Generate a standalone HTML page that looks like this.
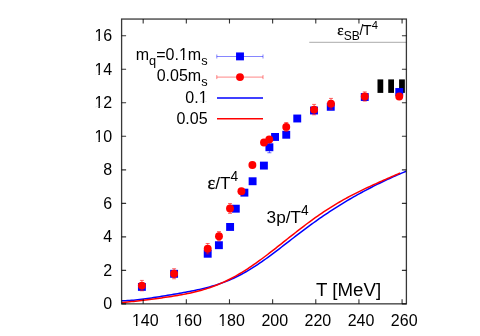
<!DOCTYPE html>
<html><head><meta charset="utf-8"><title>plot</title>
<style>html,body{margin:0;padding:0;background:#fff;}body{width:480px;height:336px;overflow:hidden;}svg{display:block;will-change:transform;}text{font-family:"Liberation Sans",sans-serif;fill:#000;}.sy{font-family:"Liberation Serif",serif;}</style></head><body>
<svg width="480" height="336" viewBox="0 0 480 336">
<rect x="0" y="0" width="480" height="336" fill="#fff"/>
<defs><clipPath id="c"><rect x="121.60" y="19.05" width="284.80" height="284.80"/></clipPath></defs>
<line x1="309.25" y1="42.3" x2="406.40" y2="42.3" stroke="#a0a0a0" stroke-width="0.9"/>
<g clip-path="url(#c)">
<rect x="377.50" y="79.4" width="5.75" height="13.5" fill="#000"/>
<rect x="388.25" y="79.4" width="5.75" height="13.5" fill="#000"/>
<rect x="399.10" y="79.4" width="5.75" height="13.5" fill="#000"/>
</g>
<g clip-path="url(#c)" fill="none" stroke-width="1.5" stroke-linecap="butt">
<path d="M121.60 300.69 L123.60 300.68 L125.60 300.64 L127.60 300.56 L129.60 300.45 L131.60 300.31 L133.60 300.15 L135.60 299.97 L137.60 299.76 L139.60 299.54 L141.60 299.30 L143.60 299.04 L145.60 298.77 L147.60 298.50 L149.60 298.21 L151.60 297.91 L153.60 297.61 L155.60 297.29 L157.60 296.98 L159.60 296.66 L161.60 296.33 L163.60 296.01 L165.60 295.68 L167.60 295.34 L169.60 295.01 L171.60 294.67 L173.60 294.33 L175.60 293.99 L177.60 293.64 L179.60 293.29 L181.60 292.94 L183.60 292.58 L185.60 292.21 L187.60 291.84 L189.60 291.46 L191.60 291.07 L193.60 290.67 L195.60 290.26 L197.60 289.83 L199.60 289.39 L201.60 288.93 L203.60 288.45 L205.60 287.96 L207.60 287.44 L209.60 286.90 L211.60 286.33 L213.60 285.74 L215.60 285.12 L217.60 284.48 L219.60 283.80 L221.60 283.10 L223.60 282.37 L225.60 281.60 L227.60 280.80 L229.60 279.97 L231.60 279.10 L233.60 278.20 L235.60 277.26 L237.60 276.29 L239.60 275.28 L241.60 274.23 L243.60 273.14 L245.60 272.02 L247.60 270.86 L249.60 269.67 L251.60 268.45 L253.60 267.19 L255.60 265.89 L257.60 264.57 L259.60 263.22 L261.60 261.84 L263.60 260.43 L265.60 259.01 L267.60 257.56 L269.60 256.09 L271.60 254.60 L273.60 253.10 L275.60 251.59 L277.60 250.07 L279.60 248.54 L281.60 247.00 L283.60 245.46 L285.60 243.91 L287.60 242.36 L289.60 240.82 L291.60 239.27 L293.60 237.73 L295.60 236.19 L297.60 234.66 L299.60 233.13 L301.60 231.62 L303.60 230.11 L305.60 228.61 L307.60 227.12 L309.60 225.65 L311.60 224.19 L313.60 222.74 L315.60 221.30 L317.60 219.88 L319.60 218.48 L321.60 217.09 L323.60 215.71 L325.60 214.35 L327.60 213.01 L329.60 211.68 L331.60 210.37 L333.60 209.08 L335.60 207.80 L337.60 206.54 L339.60 205.29 L341.60 204.06 L343.60 202.84 L345.60 201.64 L347.60 200.45 L349.60 199.27 L351.60 198.11 L353.60 196.96 L355.60 195.83 L357.60 194.71 L359.60 193.60 L361.60 192.51 L363.60 191.43 L365.60 190.36 L367.60 189.30 L369.60 188.25 L371.60 187.22 L373.60 186.20 L375.60 185.19 L377.60 184.19 L379.60 183.21 L381.60 182.24 L383.60 181.28 L385.60 180.33 L387.60 179.39 L389.60 178.46 L391.60 177.55 L393.60 176.65 L395.60 175.76 L397.60 174.88 L399.60 174.01 L401.60 173.16 L403.60 172.32 L405.60 171.49 L406.40 171.16" stroke="#0000ff"/>
<path d="M121.60 302.58 L123.60 302.41 L125.60 302.22 L127.60 302.03 L129.60 301.83 L131.60 301.62 L133.60 301.41 L135.60 301.18 L137.60 300.96 L139.60 300.73 L141.60 300.49 L143.60 300.25 L145.60 300.00 L147.60 299.75 L149.60 299.50 L151.60 299.24 L153.60 298.98 L155.60 298.72 L157.60 298.45 L159.60 298.17 L161.60 297.90 L163.60 297.61 L165.60 297.33 L167.60 297.03 L169.60 296.73 L171.60 296.42 L173.60 296.11 L175.60 295.78 L177.60 295.45 L179.60 295.10 L181.60 294.75 L183.60 294.38 L185.60 293.99 L187.60 293.59 L189.60 293.17 L191.60 292.74 L193.60 292.28 L195.60 291.80 L197.60 291.30 L199.60 290.77 L201.60 290.22 L203.60 289.64 L205.60 289.03 L207.60 288.40 L209.60 287.73 L211.60 287.03 L213.60 286.30 L215.60 285.54 L217.60 284.74 L219.60 283.91 L221.60 283.05 L223.60 282.15 L225.60 281.22 L227.60 280.26 L229.60 279.26 L231.60 278.22 L233.60 277.16 L235.60 276.06 L237.60 274.92 L239.60 273.76 L241.60 272.56 L243.60 271.33 L245.60 270.06 L247.60 268.77 L249.60 267.45 L251.60 266.11 L253.60 264.73 L255.60 263.33 L257.60 261.91 L259.60 260.47 L261.60 259.00 L263.60 257.51 L265.60 256.01 L267.60 254.49 L269.60 252.96 L271.60 251.41 L273.60 249.85 L275.60 248.29 L277.60 246.71 L279.60 245.13 L281.60 243.55 L283.60 241.96 L285.60 240.37 L287.60 238.78 L289.60 237.20 L291.60 235.61 L293.60 234.04 L295.60 232.47 L297.60 230.90 L299.60 229.35 L301.60 227.81 L303.60 226.28 L305.60 224.77 L307.60 223.27 L309.60 221.79 L311.60 220.33 L313.60 218.88 L315.60 217.46 L317.60 216.05 L319.60 214.67 L321.60 213.30 L323.60 211.96 L325.60 210.64 L327.60 209.34 L329.60 208.06 L331.60 206.81 L333.60 205.57 L335.60 204.36 L337.60 203.17 L339.60 202.00 L341.60 200.85 L343.60 199.72 L345.60 198.60 L347.60 197.51 L349.60 196.44 L351.60 195.38 L353.60 194.34 L355.60 193.32 L357.60 192.32 L359.60 191.32 L361.60 190.35 L363.60 189.39 L365.60 188.44 L367.60 187.50 L369.60 186.57 L371.60 185.65 L373.60 184.75 L375.60 183.84 L377.60 182.95 L379.60 182.06 L381.60 181.18 L383.60 180.30 L385.60 179.42 L387.60 178.55 L389.60 177.67 L391.60 176.79 L393.60 175.91 L395.60 175.02 L397.60 174.13 L399.60 173.23 L400.00 173.05" stroke="#ff0000"/>
</g>
<g stroke-width="0.6">
<path d="M216.8 56.50H263 M216.8 54.50V58.50 M263 54.50V58.50" stroke="#0000ff" stroke-opacity="0.8" fill="none"/>
<path d="M216.8 77.10H263 M216.8 75.10V79.10 M263 75.10V79.10" stroke="#ff0000" stroke-opacity="0.8" fill="none"/>
</g>
<line x1="217" y1="98.00" x2="263" y2="98.00" stroke="#0000ff" stroke-width="1.5"/>
<line x1="217" y1="118.75" x2="263" y2="118.75" stroke="#ff0000" stroke-width="1.5"/>
<rect x="236.05" y="52.45" width="7.90" height="7.90" fill="#0000ff"/>
<circle cx="240.00" cy="77.10" r="3.95" fill="#ff0000"/>
<g clip-path="url(#c)">
<path d="M269.40 141.75V152.75 M267.40 141.75H271.40 M267.40 152.75H271.40" stroke="#0000ff" stroke-opacity="0.85" stroke-width="0.7" fill="none"/>
<rect x="137.95" y="282.95" width="7.90" height="7.90" fill="#0000ff"/>
<rect x="170.15" y="269.85" width="7.90" height="7.90" fill="#0000ff"/>
<rect x="203.75" y="249.80" width="7.90" height="7.90" fill="#0000ff"/>
<rect x="214.95" y="241.25" width="7.90" height="7.90" fill="#0000ff"/>
<rect x="226.15" y="223.00" width="7.90" height="7.90" fill="#0000ff"/>
<rect x="231.85" y="204.75" width="7.90" height="7.90" fill="#0000ff"/>
<rect x="240.45" y="188.70" width="7.90" height="7.90" fill="#0000ff"/>
<rect x="248.65" y="177.30" width="7.90" height="7.90" fill="#0000ff"/>
<rect x="259.95" y="161.65" width="7.90" height="7.90" fill="#0000ff"/>
<rect x="265.45" y="143.30" width="7.90" height="7.90" fill="#0000ff"/>
<rect x="271.10" y="133.00" width="7.90" height="7.90" fill="#0000ff"/>
<rect x="282.30" y="130.80" width="7.90" height="7.90" fill="#0000ff"/>
<rect x="293.30" y="114.55" width="7.90" height="7.90" fill="#0000ff"/>
<rect x="310.05" y="106.55" width="7.90" height="7.90" fill="#0000ff"/>
<rect x="326.80" y="102.85" width="7.90" height="7.90" fill="#0000ff"/>
<rect x="360.80" y="93.05" width="7.90" height="7.90" fill="#0000ff"/>
<rect x="395.30" y="88.05" width="7.90" height="7.90" fill="#0000ff"/>
<path d="M141.90 280.40V290.80 M139.90 280.40H143.90 M139.90 290.80H143.90" stroke="#ff0000" stroke-opacity="0.85" stroke-width="0.7" fill="none"/>
<path d="M174.10 268.75V278.75 M172.10 268.75H176.10 M172.10 278.75H176.10" stroke="#ff0000" stroke-opacity="0.85" stroke-width="0.7" fill="none"/>
<path d="M207.70 243.50V253.90 M205.70 243.50H209.70 M205.70 253.90H209.70" stroke="#ff0000" stroke-opacity="0.85" stroke-width="0.7" fill="none"/>
<path d="M219.00 231.60V240.80 M217.00 231.60H221.00 M217.00 240.80H221.00" stroke="#ff0000" stroke-opacity="0.85" stroke-width="0.7" fill="none"/>
<path d="M230.00 203.55V213.35 M228.00 203.55H232.00 M228.00 213.35H232.00" stroke="#ff0000" stroke-opacity="0.85" stroke-width="0.7" fill="none"/>
<path d="M286.25 122.50V131.30 M284.25 122.50H288.25 M284.25 131.30H288.25" stroke="#ff0000" stroke-opacity="0.85" stroke-width="0.7" fill="none"/>
<path d="M314.10 104.40V114.80 M312.10 104.40H316.10 M312.10 114.80H316.10" stroke="#ff0000" stroke-opacity="0.85" stroke-width="0.7" fill="none"/>
<path d="M331.00 98.40V109.20 M329.00 98.40H333.00 M329.00 109.20H333.00" stroke="#ff0000" stroke-opacity="0.85" stroke-width="0.7" fill="none"/>
<path d="M364.75 91.90V101.10 M362.75 91.90H366.75 M362.75 101.10H366.75" stroke="#ff0000" stroke-opacity="0.85" stroke-width="0.7" fill="none"/>
<circle cx="141.90" cy="285.60" r="3.95" fill="#ff0000"/>
<circle cx="174.10" cy="273.75" r="3.95" fill="#ff0000"/>
<circle cx="207.70" cy="248.70" r="3.95" fill="#ff0000"/>
<circle cx="219.00" cy="236.20" r="3.95" fill="#ff0000"/>
<circle cx="230.00" cy="208.45" r="3.95" fill="#ff0000"/>
<circle cx="241.40" cy="191.20" r="3.95" fill="#ff0000"/>
<circle cx="252.40" cy="165.00" r="3.95" fill="#ff0000"/>
<circle cx="264.00" cy="142.50" r="3.95" fill="#ff0000"/>
<circle cx="269.25" cy="139.50" r="3.95" fill="#ff0000"/>
<circle cx="286.25" cy="126.90" r="3.95" fill="#ff0000"/>
<circle cx="314.10" cy="109.60" r="3.95" fill="#ff0000"/>
<circle cx="331.00" cy="103.80" r="3.95" fill="#ff0000"/>
<circle cx="364.75" cy="96.50" r="3.95" fill="#ff0000"/>
<circle cx="399.25" cy="96.50" r="3.95" fill="#ff0000"/>
</g>
<rect x="121.60" y="19.05" width="284.80" height="284.80" fill="none" stroke="#000" stroke-opacity="0.78" stroke-width="1.3"/>
<path d="M143.18 303.85v-4.5 M143.18 19.05v4.5 M186.33 303.85v-4.5 M186.33 19.05v4.5 M229.48 303.85v-4.5 M229.48 19.05v4.5 M272.63 303.85v-4.5 M272.63 19.05v4.5 M315.78 303.85v-4.5 M315.78 19.05v4.5 M358.93 303.85v-4.5 M358.93 19.05v4.5 M402.08 303.85v-4.5 M402.08 19.05v4.5 M121.60 303.85h4.5 M406.40 303.85h-4.5 M121.60 270.34h4.5 M406.40 270.34h-4.5 M121.60 236.84h4.5 M406.40 236.84h-4.5 M121.60 203.33h4.5 M406.40 203.33h-4.5 M121.60 169.83h4.5 M406.40 169.83h-4.5 M121.60 136.32h4.5 M406.40 136.32h-4.5 M121.60 102.81h4.5 M406.40 102.81h-4.5 M121.60 69.31h4.5 M406.40 69.31h-4.5 M121.60 35.80h4.5 M406.40 35.80h-4.5 " stroke="#000" stroke-opacity="0.8" stroke-width="1.1" fill="none"/>
<text x="145.28" y="326.3" font-size="16.00" text-anchor="middle">140</text>
<text x="188.43" y="326.3" font-size="16.00" text-anchor="middle">160</text>
<text x="231.58" y="326.3" font-size="16.00" text-anchor="middle">180</text>
<text x="274.73" y="326.3" font-size="16.00" text-anchor="middle">200</text>
<text x="317.88" y="326.3" font-size="16.00" text-anchor="middle">220</text>
<text x="361.03" y="326.3" font-size="16.00" text-anchor="middle">240</text>
<text x="404.18" y="326.3" font-size="16.00" text-anchor="middle">260</text>
<text x="112.2" y="309.40" font-size="16.00" text-anchor="end">0</text>
<text x="112.2" y="275.89" font-size="16.00" text-anchor="end">2</text>
<text x="112.2" y="242.39" font-size="16.00" text-anchor="end">4</text>
<text x="112.2" y="208.88" font-size="16.00" text-anchor="end">6</text>
<text x="112.2" y="175.38" font-size="16.00" text-anchor="end">8</text>
<text x="112.2" y="141.87" font-size="16.00" text-anchor="end">10</text>
<text x="112.2" y="108.36" font-size="16.00" text-anchor="end">12</text>
<text x="112.2" y="74.86" font-size="16.00" text-anchor="end">14</text>
<text x="112.2" y="41.35" font-size="16.00" text-anchor="end">16</text>
<text x="207.55" y="60.00" font-size="16.00" text-anchor="end"><tspan>m</tspan><tspan font-size="12.80" dy="4.8">q</tspan><tspan dy="-4.8">=0.1m</tspan><tspan font-size="12.80" dy="4.8">s</tspan></text>
<text x="207.55" y="81.30" font-size="16.00" text-anchor="end"><tspan>0.05m</tspan><tspan font-size="12.80" dy="4.8">s</tspan></text>
<text x="207.55" y="103.45" font-size="16.00" text-anchor="end"><tspan>0.1</tspan></text>
<text x="207.55" y="124.10" font-size="16.00" text-anchor="end"><tspan>0.05</tspan></text>
<rect x="132.65" y="324.20" width="3.30" height="3.00" fill="#fff"/>
<rect x="137.37" y="324.20" width="3.98" height="3.00" fill="#fff"/>
<rect x="175.80" y="324.20" width="3.30" height="3.00" fill="#fff"/>
<rect x="180.52" y="324.20" width="3.98" height="3.00" fill="#fff"/>
<rect x="218.95" y="324.20" width="3.30" height="3.00" fill="#fff"/>
<rect x="223.67" y="324.20" width="3.98" height="3.00" fill="#fff"/>
<rect x="95.12" y="139.78" width="3.30" height="3.00" fill="#fff"/>
<rect x="99.84" y="139.78" width="3.98" height="3.00" fill="#fff"/>
<rect x="95.12" y="106.27" width="3.30" height="3.00" fill="#fff"/>
<rect x="99.84" y="106.27" width="3.98" height="3.00" fill="#fff"/>
<rect x="95.12" y="72.76" width="3.30" height="3.00" fill="#fff"/>
<rect x="99.84" y="72.76" width="3.98" height="3.00" fill="#fff"/>
<rect x="95.12" y="39.26" width="3.30" height="3.00" fill="#fff"/>
<rect x="99.84" y="39.26" width="3.98" height="3.00" fill="#fff"/>
<rect x="199.37" y="101.35" width="3.30" height="3.00" fill="#fff"/>
<rect x="204.09" y="101.35" width="3.98" height="3.00" fill="#fff"/>
<rect x="179.64" y="57.90" width="3.30" height="3.00" fill="#fff"/>
<rect x="184.36" y="57.90" width="3.98" height="3.00" fill="#fff"/>
<text x="207.5" y="188.9" font-size="17.20"><tspan class="sy" font-size="18.23" stroke="#000" stroke-width="0.35">ε</tspan>/T<tspan font-size="13.76" dy="-7.9">4</tspan></text>
<text x="266.6" y="222.7" font-size="17.20">3p/T<tspan font-size="13.76" dy="-8.0">4</tspan></text>
<text x="316.0" y="295.7" font-size="18.7">T [MeV]</text>
<text x="337.3" y="35" font-size="14.00"><tspan class="sy" font-size="15.12" stroke="#000" stroke-width="0.3">ε</tspan><tspan font-size="12.04" dy="5.2">SB</tspan><tspan dy="-4.8" dx="-0.2">/</tspan><tspan dy="-0.2" dx="-0.6" font-size="14.56">T</tspan><tspan font-size="11.20" dy="-6.5" dx="0.1">4</tspan></text>
</svg></body></html>
